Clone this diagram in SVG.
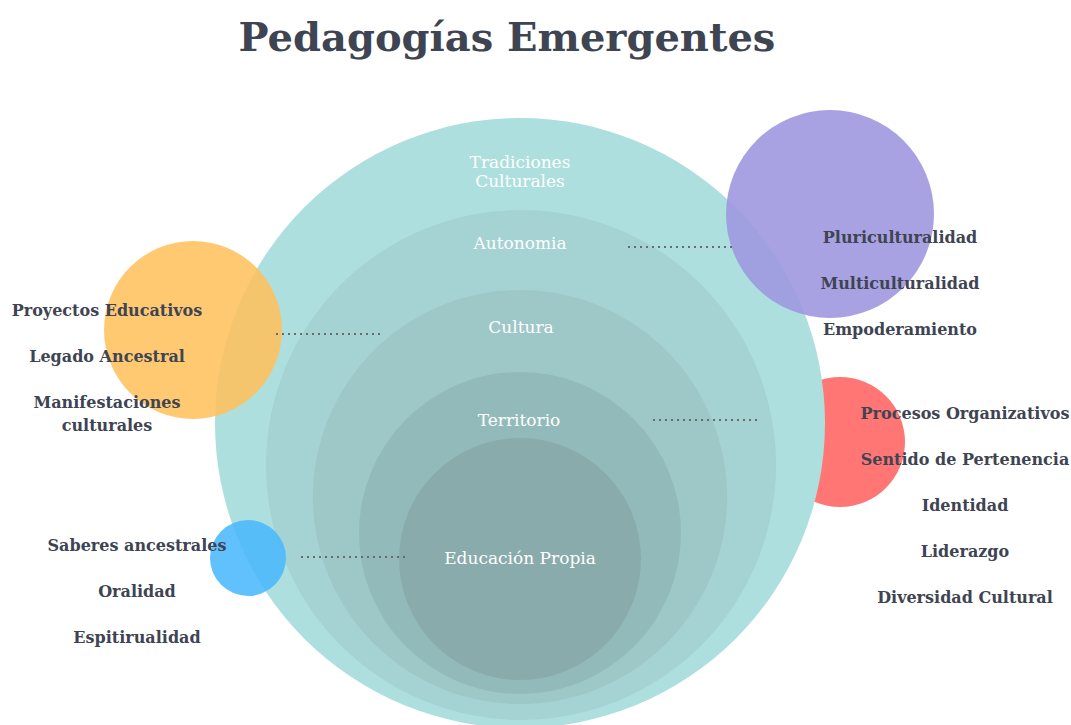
<svg xmlns="http://www.w3.org/2000/svg" width="1071" height="725" viewBox="0 0 1071 725">
<style>
.lbl{font-family:"DejaVu Serif","Liberation Serif",serif;font-weight:bold;font-size:16px;fill:#3e4452;text-anchor:middle}
.in{font-family:"DejaVu Serif","Liberation Serif",serif;font-size:17px;fill:#ffffff;text-anchor:middle}
.dot{stroke:#6b6b6b;stroke-width:2;stroke-dasharray:2 4;fill:none}
</style>
<rect width="1071" height="725" fill="#ffffff"/>
<text x="507" y="51" style="font-family:'DejaVu Serif','Liberation Serif',serif;font-weight:bold;font-size:40px;fill:#3e4452;text-anchor:middle">Pedagogías Emergentes</text>
<g id="red"><circle cx="840" cy="442" r="65" fill="#ff7675"/></g>
<g id="tradiciones"><circle cx="520" cy="423" r="305" fill="#addfde"/><text class="in" x="520" y="168">Tradiciones</text><text class="in" x="520" y="187">Culturales</text></g>
<g id="autonomia"><circle cx="521" cy="465" r="255" fill="#a5d2d3"/><text class="in" x="520" y="249">Autonomia</text></g>
<g id="cultura"><circle cx="520" cy="497" r="207" fill="#9ec7c7"/><text class="in" x="521" y="333">Cultura</text></g>
<g id="territorio"><circle cx="520" cy="533" r="161" fill="#93babb"/><text class="in" x="519" y="426">Territorio</text></g>
<g id="educacion"><circle cx="520" cy="559" r="121" fill="#89abab"/><text class="in" x="520" y="564">Educación Propia</text></g>
<g id="orange"><circle cx="193" cy="330" r="89" fill="#ffc25f" opacity="0.88"/></g>
<g id="blue"><circle cx="248" cy="558" r="38" fill="#4ab8fd" opacity="0.88"/></g>
<g id="purple"><circle cx="830" cy="214" r="104" fill="#9e98e0" opacity="0.9"/></g>
<g id="connectors">
<line class="dot" x1="276" y1="334" x2="382" y2="334"/>
<line class="dot" x1="628" y1="247" x2="734" y2="247"/>
<line class="dot" x1="653" y1="420" x2="759" y2="420"/>
<line class="dot" x1="301" y1="557" x2="407" y2="557"/>
</g>
<g id="left-labels">
<text class="lbl" x="107" y="316">Proyectos Educativos</text>
<text class="lbl" x="107" y="362">Legado Ancestral</text>
<text class="lbl" x="107" y="408">Manifestaciones</text>
<text class="lbl" x="107" y="431">culturales</text>
<text class="lbl" x="137" y="551">Saberes ancestrales</text>
<text class="lbl" x="137" y="597">Oralidad</text>
<text class="lbl" x="137" y="643">Espitirualidad</text>
</g>
<g id="right-labels">
<text class="lbl" x="900" y="243">Pluriculturalidad</text>
<text class="lbl" x="900" y="289">Multiculturalidad</text>
<text class="lbl" x="900" y="335">Empoderamiento</text>
<text class="lbl" x="965" y="419">Procesos Organizativos</text>
<text class="lbl" x="965" y="465">Sentido de Pertenencia</text>
<text class="lbl" x="965" y="511">Identidad</text>
<text class="lbl" x="965" y="557">Liderazgo</text>
<text class="lbl" x="965" y="603">Diversidad Cultural</text>
</g>
</svg>
